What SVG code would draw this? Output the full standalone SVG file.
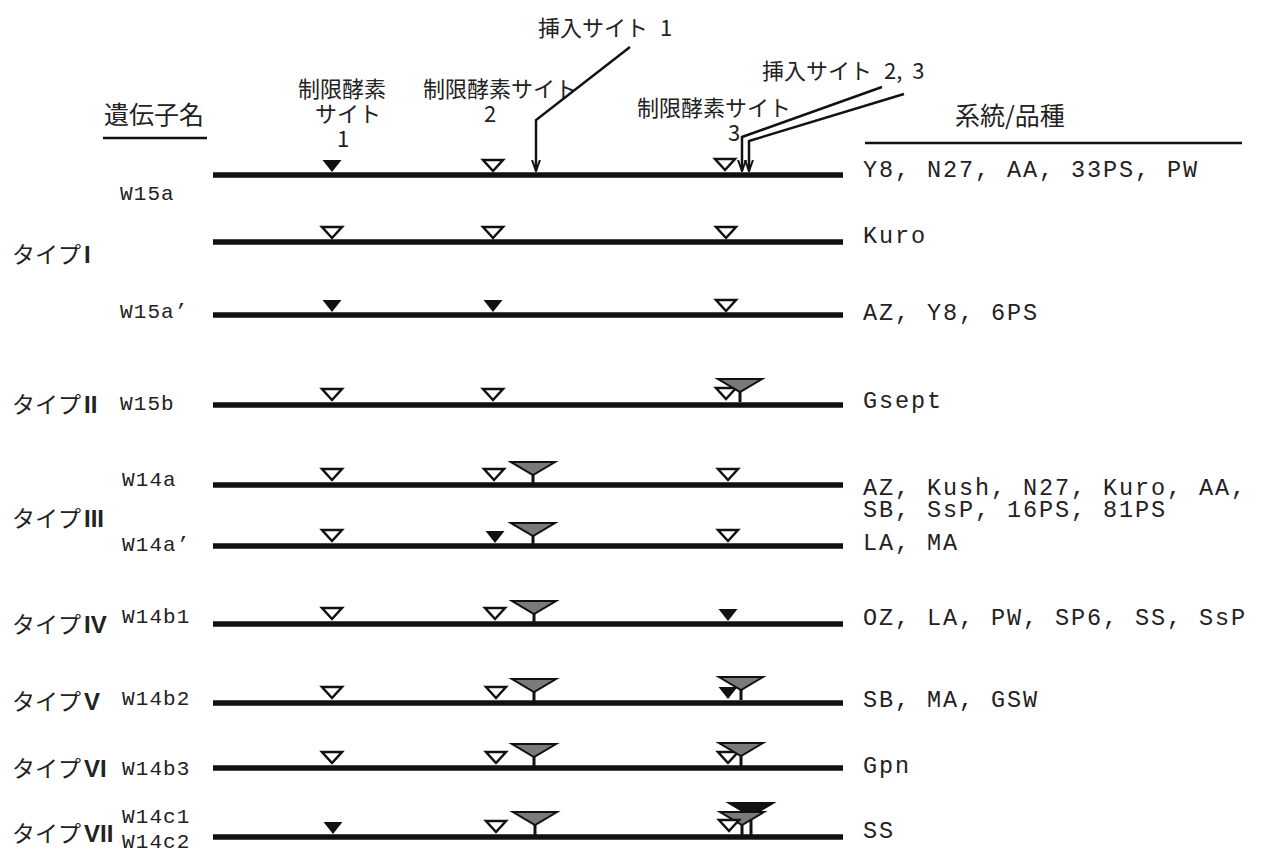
<svg xmlns="http://www.w3.org/2000/svg" xmlns:xlink="http://www.w3.org/1999/xlink" width="1261" height="852" viewBox="0 0 1261 852">
<style>
.bg{fill:#fff}
.jp{font-family:"Noto Sans CJK JP","Noto Sans CJK SC",sans-serif;fill:#222}
.mono{font-family:"Liberation Mono","DejaVu Sans Mono",monospace;fill:#222}
.gene{font-size:21px;letter-spacing:1.1px}
.strain{font-size:23.5px;letter-spacing:1.9px}
.rule{stroke:#111;stroke-width:2.5}
.dna{stroke:#111;stroke-width:5.5}
.arrow{fill:none;stroke:#111;stroke-width:2.5}
.rn{font-family:"Liberation Sans","DejaVu Sans",sans-serif;font-weight:bold;font-size:24px}
.tl{font-size:23px}
.hd{font-size:22px}
</style>
<defs>
<g id="open"><polygon points="-10,-11 10,-11 0,0" fill="#fff" stroke="#111" stroke-width="2.5" stroke-linejoin="miter"/></g>
<g id="black"><polygon points="-9.5,-12 9.5,-12 0,0" fill="#111"/></g>
<g id="ins"><line x1="0" y1="-1" x2="0" y2="10" stroke="#111" stroke-width="3"/><polygon points="-22,-13 22,-13 0,0" fill="#7a7a7a" stroke="#111" stroke-width="2"/></g>
<g id="insblack"><line x1="0" y1="-1" x2="0" y2="20" stroke="#111" stroke-width="3"/><polygon points="-22,-13 22,-13 0,0" fill="#111" stroke="#111" stroke-width="2"/></g>
<marker id="ah" viewBox="0 0 12 10" refX="11" refY="5" markerWidth="12" markerHeight="10" markerUnits="userSpaceOnUse" orient="auto">
<path d="M0,1 L11,5 L0,9" fill="none" stroke="#111" stroke-width="2"/>
</marker>
</defs>
<rect class="bg" x="0" y="0" width="1261" height="852"/>

<g id="header">
<text class="jp" x="104" y="124" font-size="25">遺伝子名</text>
<line class="rule" x1="103" y1="138" x2="207" y2="138"/>
<text class="jp hd" x="342" y="97" text-anchor="middle">制限酵素</text>
<text class="jp hd" x="348" y="122" text-anchor="middle">サイト</text>
<text class="jp hd" x="343" y="147" text-anchor="middle">1</text>
<text class="jp hd" x="423" y="97">制限酵素サイト</text>
<text class="jp hd" x="490" y="122" text-anchor="middle">2</text>
<text class="jp hd" x="637" y="116">制限酵素サイト</text>
<text class="jp hd" x="734" y="141" text-anchor="middle">3</text>
<text class="jp hd" x="538" y="36">挿入サイト<tspan dx="12">1</tspan></text>
<text class="jp hd" x="762" y="79">挿入サイト<tspan dx="12">2,</tspan><tspan dx="10">3</tspan></text>
<text class="jp" x="955" y="125" font-size="25">系統/品種</text>
<line class="rule" x1="865" y1="143" x2="1242" y2="143"/>
</g>

<g id="type-labels">
<text class="jp tl" x="12" y="263">タイプ<tspan class="rn" dx="3">I</tspan></text>
<text class="jp tl" x="12" y="413">タイプ<tspan class="rn" dx="3">II</tspan></text>
<text class="jp tl" x="12" y="527">タイプ<tspan class="rn" dx="3">III</tspan></text>
<text class="jp tl" x="12" y="633">タイプ<tspan class="rn" dx="3">IV</tspan></text>
<text class="jp tl" x="12" y="710">タイプ<tspan class="rn" dx="3">V</tspan></text>
<text class="jp tl" x="12" y="777">タイプ<tspan class="rn" dx="3">VI</tspan></text>
<text class="jp tl" x="12" y="842">タイプ<tspan class="rn" dx="3">VII</tspan></text>
</g>

<g id="row-W15a">
<text class="mono gene" x="120" y="200">W15a</text>
<line class="dna" x1="213" y1="175" x2="843" y2="175"/>
<use href="#black" x="332" y="172"/>
<use href="#open" x="493" y="171"/>
<use href="#open" x="725" y="170"/>
<text class="mono strain" x="863" y="177">Y8, N27,  AA, 33PS, PW</text>
</g>

<g id="row-Kuro">
<line class="dna" x1="213" y1="242" x2="843" y2="242"/>
<use href="#open" x="332" y="238"/>
<use href="#open" x="493" y="238"/>
<use href="#open" x="726" y="238"/>
<text class="mono strain" x="863" y="243">Kuro</text>
</g>

<g id="row-W15a-prime">
<text class="mono gene" x="120" y="318">W15a’</text>
<line class="dna" x1="213" y1="315" x2="843" y2="315"/>
<use href="#black" x="332" y="312"/>
<use href="#black" x="493" y="312"/>
<use href="#open" x="726" y="311"/>
<text class="mono strain" x="863" y="320">AZ, Y8, 6PS</text>
</g>

<g id="row-W15b">
<text class="mono gene" x="120" y="410">W15b</text>
<line class="dna" x1="213" y1="405" x2="843" y2="405"/>
<use href="#open" x="332" y="400"/>
<use href="#open" x="493" y="400"/>
<use href="#open" x="726" y="399"/>
<use href="#ins" x="740" y="392"/>
<text class="mono strain" x="863" y="408">Gsept</text>
</g>

<g id="row-W14a">
<text class="mono gene" x="122" y="486">W14a</text>
<line class="dna" x1="213" y1="485" x2="843" y2="485"/>
<use href="#open" x="332" y="480"/>
<use href="#open" x="494" y="480"/>
<use href="#ins" x="533" y="475"/>
<use href="#open" x="728" y="480"/>
<text class="mono strain" x="863" y="495">AZ, Kush,  N27, Kuro, AA,</text>
<text class="mono strain" x="863" y="517">SB, SsP, 16PS, 81PS</text>
</g>

<g id="row-W14a-prime">
<text class="mono gene" x="122" y="551">W14a’</text>
<line class="dna" x1="213" y1="546" x2="843" y2="546"/>
<use href="#open" x="332" y="541"/>
<use href="#black" x="495" y="543"/>
<use href="#ins" x="533" y="536"/>
<use href="#open" x="728" y="541"/>
<text class="mono strain" x="863" y="550">LA, MA</text>
</g>

<g id="row-W14b1">
<text class="mono gene" x="122" y="623">W14b1</text>
<line class="dna" x1="213" y1="624" x2="843" y2="624"/>
<use href="#open" x="332" y="619"/>
<use href="#open" x="495" y="619"/>
<use href="#ins" x="534" y="614"/>
<use href="#black" x="728" y="621"/>
<text class="mono strain" x="863" y="625">OZ, LA, PW, SP6, SS, SsP</text>
</g>

<g id="row-W14b2">
<text class="mono gene" x="122" y="705">W14b2</text>
<line class="dna" x1="213" y1="703" x2="843" y2="703"/>
<use href="#open" x="332" y="698"/>
<use href="#open" x="496" y="698"/>
<use href="#ins" x="534" y="692"/>
<use href="#black" x="728" y="699"/>
<use href="#ins" x="741" y="690"/>
<text class="mono strain" x="863" y="707">SB, MA, GSW</text>
</g>

<g id="row-W14b3">
<text class="mono gene" x="122" y="775">W14b3</text>
<line class="dna" x1="213" y1="768" x2="843" y2="768"/>
<use href="#open" x="332" y="763"/>
<use href="#open" x="496" y="763"/>
<use href="#ins" x="534" y="757"/>
<use href="#open" x="728" y="763"/>
<use href="#ins" x="741" y="756"/>
<text class="mono strain" x="863" y="773">Gpn</text>
</g>

<g id="row-W14c">
<text class="mono gene" x="122" y="823">W14c1</text>
<text class="mono gene" x="122" y="848">W14c2</text>
<line class="dna" x1="213" y1="837" x2="843" y2="837"/>
<use href="#black" x="333" y="834"/>
<use href="#open" x="496" y="832"/>
<use href="#ins" x="535" y="825"/>
<use href="#insblack" x="751" y="816"/>
<use href="#ins" x="742" y="825"/>
<use href="#open" x="729" y="831"/>
<text class="mono strain" x="863" y="838">SS</text>
</g>

<g id="connectors">
<path class="arrow" d="M630,47 L536,120 L536,171" marker-end="url(#ah)"/>
<path class="arrow" d="M882,87 L742,137 L742,171" marker-end="url(#ah)"/>
<path class="arrow" d="M904,94 L749,141 L749,171" marker-end="url(#ah)"/>
</g>
</svg>
